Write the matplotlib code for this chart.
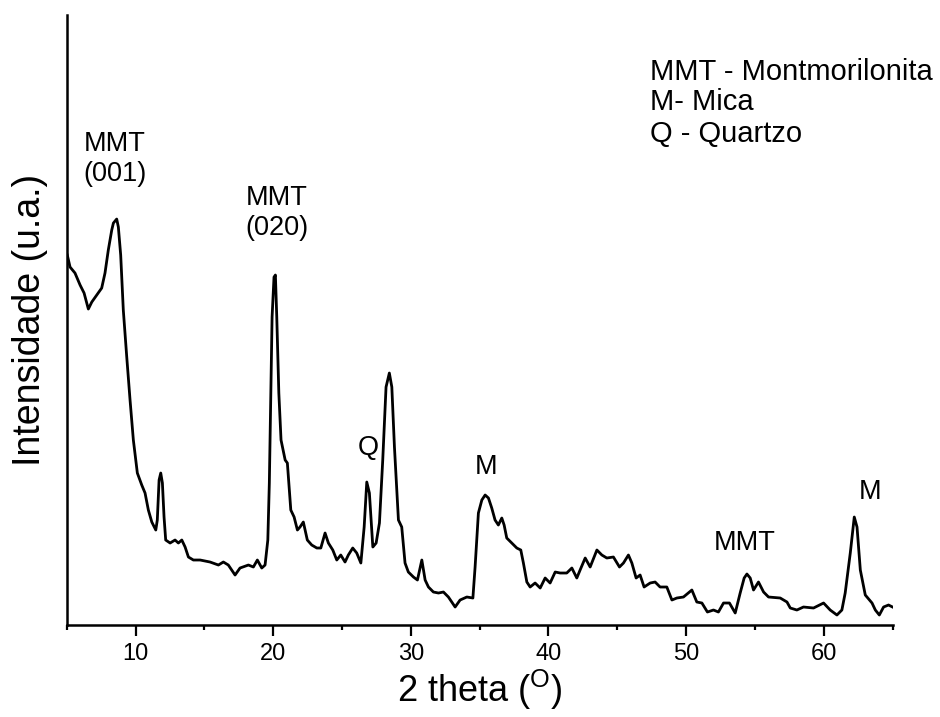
import matplotlib
matplotlib.use("Agg")
import matplotlib.pyplot as plt
from matplotlib.ticker import MultipleLocator

plt.rcParams['font.family'] = ['Liberation Sans', 'DejaVu Sans']
plt.rcParams['mathtext.fontset'] = 'custom'
plt.rcParams['mathtext.rm'] = 'Liberation Sans'
plt.rcParams['mathtext.default'] = 'regular'

two_theta = [
    5.04, 5.24, 5.60, 5.97, 6.26, 6.57, 6.82, 7.18, 7.54, 7.78, 8.02, 8.27, 8.39, 8.63, 8.75, 8.92,
    9.11, 9.36, 9.60, 9.84, 10.13, 10.45, 10.69, 10.93, 11.18, 11.47, 11.58, 11.71, 11.83, 11.95,
    12.07, 12.19, 12.51, 12.87, 13.11, 13.36, 13.60, 13.84, 14.20, 14.69, 15.41, 16.02, 16.38,
    16.74, 17.23, 17.59, 18.20, 18.56, 18.85, 19.17, 19.41, 19.61, 19.72, 19.82, 19.92, 20.06,
    20.16, 20.26, 20.41, 20.57, 20.87, 21.03, 21.28, 21.52, 21.76, 21.95, 22.19, 22.48, 22.80,
    23.17, 23.46, 23.77, 24.01, 24.33, 24.62, 24.91, 25.22, 25.46, 25.78, 26.07, 26.37, 26.61,
    26.80, 26.99, 27.24, 27.48, 27.72, 27.96, 28.20, 28.44, 28.62, 28.81, 29.10, 29.34, 29.58,
    29.82, 30.19, 30.48, 30.80, 31.04, 31.28, 31.64, 32.01, 32.37, 32.73, 33.22, 33.58, 34.07,
    34.51, 34.67, 34.91, 35.16, 35.40, 35.64, 35.88, 36.12, 36.36, 36.61, 36.78, 36.97, 37.34,
    37.70, 37.99, 38.18, 38.43, 38.67, 39.03, 39.40, 39.76, 40.12, 40.49, 40.85, 41.33, 41.70,
    42.06, 42.30, 42.67, 43.03, 43.52, 43.88, 44.24, 44.72, 45.16, 45.45, 45.81, 46.06, 46.37,
    46.66, 46.95, 47.39, 47.75, 48.11, 48.60, 48.97, 49.33, 49.81, 50.42, 50.78, 51.15, 51.55,
    51.99, 52.35, 52.72, 53.15, 53.57, 53.93, 54.22, 54.42, 54.66, 54.90, 55.26, 55.63, 55.99,
    56.84, 57.33, 57.57, 58.05, 58.53, 59.26, 59.99, 60.47, 60.96, 61.32, 61.56, 61.93, 62.22,
    62.42, 62.66, 63.02, 63.51, 63.75, 64.04, 64.35, 64.71, 65.00,
]
intensity = [
    370, 358, 352, 340, 332, 316, 323, 330, 337, 352, 375, 395, 402, 406, 398, 370,
    315, 268, 225, 185, 152, 140, 132, 115, 103, 95, 105, 145, 152, 142,
    108, 85, 82, 85, 82, 85, 78, 68, 65, 65, 63, 60, 63,
    60, 50, 57, 60, 58, 65, 57, 60, 85, 142, 225, 308, 348,
    350, 308, 232, 185, 165, 162, 115, 108, 95, 98, 103, 85, 80,
    77, 77, 92, 82, 75, 65, 70, 63, 70, 77, 72, 62, 98,
    143, 132, 78, 82, 102, 165, 238, 252, 238, 178, 105, 98, 62,
    53, 48, 45, 65, 45, 38, 33, 32, 33, 28, 18, 25, 28,
    27, 58, 112, 125, 130, 127, 117, 105, 100, 107, 100, 87, 82,
    77, 75, 62, 43, 38, 42, 37, 47, 42, 53, 52, 52, 57,
    47, 55, 67, 58, 75, 70, 67, 68, 58, 62, 70, 62, 47,
    50, 38, 42, 43, 38, 38, 25, 27, 28, 35, 23, 22, 13,
    15, 13, 22, 22, 12, 32, 47, 51, 47, 35, 43, 33, 28,
    27, 23, 17, 15, 18, 17, 22, 15, 10, 15, 32, 72, 108,
    98, 55, 30, 22, 15, 10, 18, 20, 18,
]

peak_labels = ["MMT\n(001)", "MMT\n(020)", "Q", "M", "MMT", "M"]
peak_x = [8.51, 20.28, 26.92, 35.50, 54.29, 63.35]
peak_y = [466, 412, 177, 158, 82, 133]

legend_lines = ["MMT - Montmorilonita", "M- Mica", "Q - Quartzo"]
legend_x = 47.39
legend_y = [553, 523, 491]

fig = plt.figure(figsize=(9.4, 7.17), dpi=100)
ax = fig.add_axes([0.0710, 0.1283, 0.8785, 0.8507])
ax.plot(two_theta, intensity, color='black', lw=2.0)
ax.set_xlim(5, 65)
ax.set_ylim(0, 610)

for s in ['top', 'right']:
    ax.spines[s].set_visible(False)
for s in ['left', 'bottom']:
    ax.spines[s].set_linewidth(1.8)

ax.xaxis.set_major_locator(MultipleLocator(10))
ax.xaxis.set_minor_locator(MultipleLocator(5))
ax.tick_params(axis='x', which='major', length=7.7, width=1.6, labelsize=17, pad=5)
ax.tick_params(axis='x', which='minor', length=3.6, width=1.6)
ax.tick_params(axis='y', left=False, labelleft=False)

ax.set_xlabel("2 theta ($^{O}$)", fontsize=26, va='center')
ax.xaxis.set_label_coords(0.5, -0.1066)
ax.set_ylabel("Intensidade (u.a.)", fontsize=27, va='center')
ax.yaxis.set_label_coords(-0.0444, 0.5)

for lab, x, y in zip(peak_labels, peak_x, peak_y):
    ax.text(x, y, lab, ha='center', va='center', fontsize=19.5, linespacing=1.2)

for line, y in zip(legend_lines, legend_y):
    ax.text(legend_x, y, line, ha='left', va='center', fontsize=21)

fig.savefig("out.png", dpi=100)
